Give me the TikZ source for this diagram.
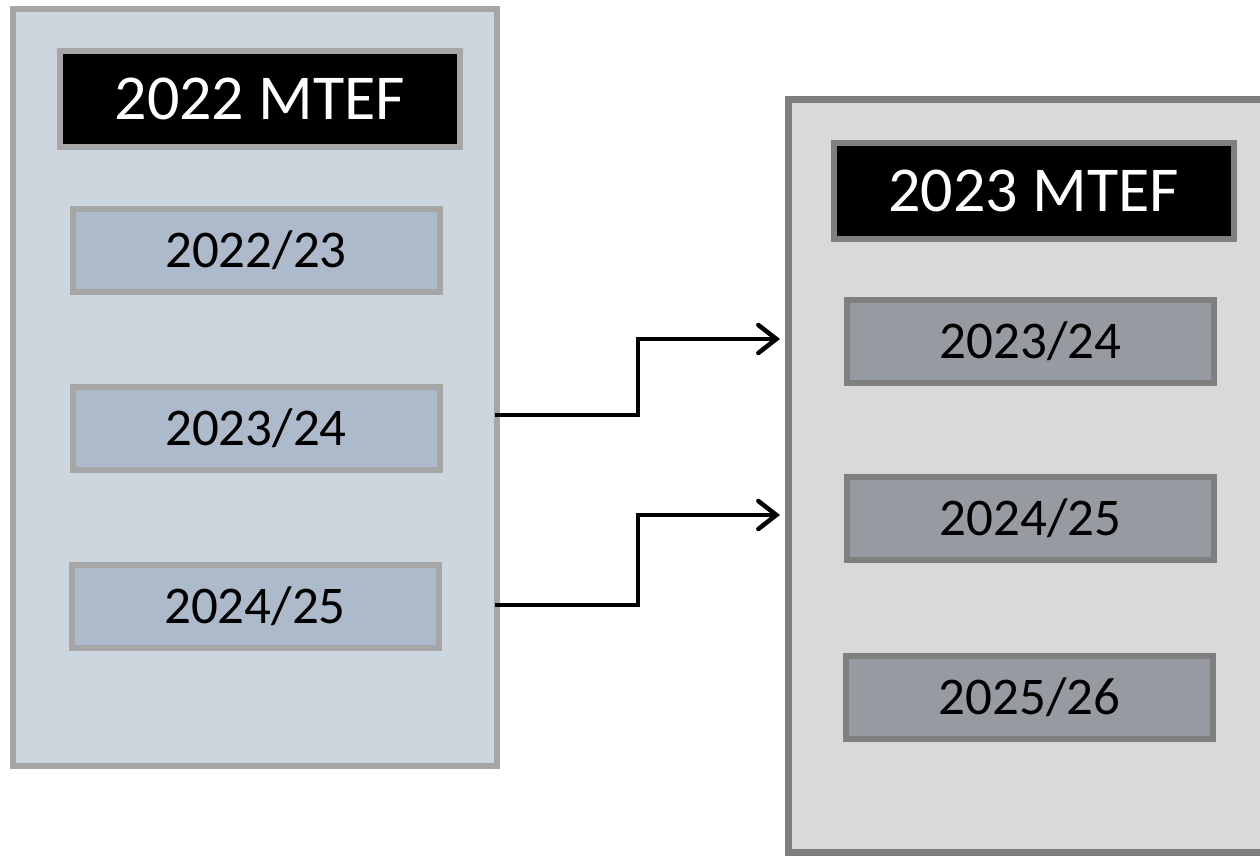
\documentclass[tikz,border=0pt]{standalone}
\usepackage{fontspec}
\setmainfont{Carlito}
\usetikzlibrary{arrows.meta}
\definecolor{lfill}{HTML}{CDD5DF}
\definecolor{lborder}{HTML}{A6A6A6}
\definecolor{lyear}{HTML}{ADBACB}
\definecolor{rfill}{HTML}{D9D9D9}
\definecolor{rborder}{HTML}{7F7F7F}
\definecolor{ryear}{HTML}{969AA1}
\tikzset{
  panelL/.style={draw=lborder, fill=lfill, line width=6pt, inner sep=0pt},
  panelR/.style={draw=rborder, fill=rfill, line width=7pt, inner sep=0pt},
  titleL/.style={draw=lborder, fill=black, text=white, line width=6pt, inner sep=0pt,
    minimum width=400pt, minimum height=96pt, font=\fontsize{64}{64}\selectfont},
  titleR/.style={titleL, draw=rborder},
  yearL/.style={draw=lborder, fill=lyear, line width=6pt, inner sep=0pt,
    minimum width=367pt, minimum height=83pt, font=\fontsize{53}{53}\selectfont},
  yearR/.style={yearL, draw=rborder, fill=ryear},
  conn/.style={line width=4.5pt, line join=miter, -{Straight Barb[length=18pt, width=28pt, line width=4.5pt, line cap=round]}}
}
\begin{document}
\begin{tikzpicture}[x=1pt, y=-1pt]
\useasboundingbox (0,0) rectangle (1260,855);
\clip (0,0) rectangle (1260,855);
\fill[white] (0,0) rectangle (1260,855);
% left panel
\node[panelL, minimum width=484pt, minimum height=757pt] (L) at (255,387) {};
\node[titleL] (tL) at (260,99) {2022 MTEF};
\node[yearL] (l1) at (256,250.5) {2022/23};
\node[yearL] (l2) at (256,428) {2023/24};
\node[yearL] (l3) at (255,606) {2024/25};
% right panel
\node[panelR, minimum width=512pt, minimum height=753pt] (R) at (1044,475.5) {};
\node[titleR] (tR) at (1033.5,190.5) {2023 MTEF};
\node[yearR] (r1) at (1030.5,341.5) {2023/24};
\node[yearR] (r2) at (1030.5,518.5) {2024/25};
\node[yearR] (r3) at (1029.5,697.5) {2025/26};
% connectors
\coordinate (s1) at (495,415);
\coordinate (e1) at (780,339);
\coordinate (s2) at (495,605);
\coordinate (e2) at (780,515);
\draw[conn] (s1) -- (638,415) |- (e1);
\draw[conn] (s2) -- (638,605) |- (e2);
\end{tikzpicture}
\end{document}
